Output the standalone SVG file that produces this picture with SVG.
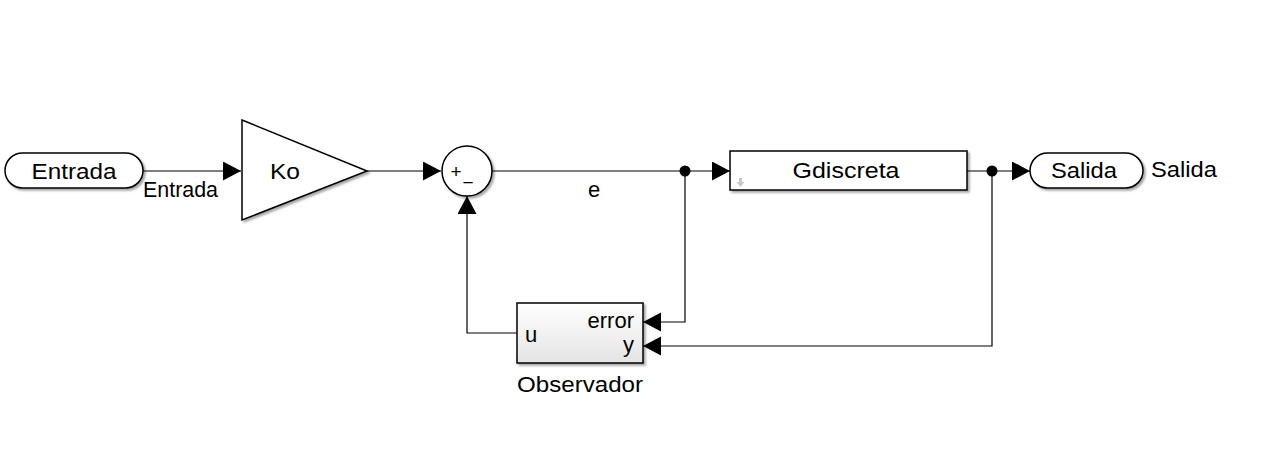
<svg xmlns="http://www.w3.org/2000/svg" width="1272" height="458" viewBox="0 0 1272 458">
<style>
text{font-family:"Liberation Sans",Arial,sans-serif;font-size:22px;fill:#000}
.blk{fill:#fff;stroke:#000;stroke-width:1.5}
.ln{fill:none;stroke:#000;stroke-width:1.2}
.sg{font-size:19px}
</style>
<defs>
<marker id="ar" markerWidth="20" markerHeight="20" refX="18" refY="9.5" orient="auto" markerUnits="userSpaceOnUse">
<path d="M0,0 L18,9.5 L0,19 Z" fill="#000"/>
</marker>
<linearGradient id="gr" x1="0" y1="0" x2="0" y2="1">
<stop offset="0" stop-color="#ffffff"/>
<stop offset="1" stop-color="#e4e4e4"/>
</linearGradient>
<filter id="sh" x="-10%" y="-10%" width="130%" height="140%">
<feDropShadow dx="2" dy="2" stdDeviation="1" flood-color="#000" flood-opacity="0.35"/>
</filter>
</defs>
<rect width="1272" height="458" fill="#fff"/>
<g id="connectors">
<path class="ln" d="M143,171 L241,171" marker-end="url(#ar)"/>
<path class="ln" d="M367,171 L441,171" marker-end="url(#ar)"/>
<path class="ln" d="M492,171 L685,171 L730,171" marker-end="url(#ar)"/>
<path class="ln" d="M685,171 L685,322 L643,322" marker-end="url(#ar)"/>
<path class="ln" d="M967,171 L992,171 L1030,171" marker-end="url(#ar)"/>
<path class="ln" d="M992,171 L992,346 L643,346" marker-end="url(#ar)"/>
<path class="ln" d="M517,333 L467,333 L467,196" marker-end="url(#ar)"/>
<circle cx="685" cy="171" r="5.5" fill="#000"/>
<circle cx="992" cy="171" r="5.5" fill="#000"/>
<text x="143" y="197" textLength="75" lengthAdjust="spacingAndGlyphs">Entrada</text>
<text x="588" y="197">e</text>
</g>
<g id="Entrada">
<rect x="5" y="153" width="138" height="35" rx="17.5" class="blk" filter="url(#sh)"/>
<text x="74" y="179" text-anchor="middle" textLength="85" lengthAdjust="spacingAndGlyphs">Entrada</text>
</g>
<g id="Ko">
<path d="M242,120 L367,171 L242,220 Z" class="blk" filter="url(#sh)"/>
<text x="270" y="179" textLength="30" lengthAdjust="spacingAndGlyphs">Ko</text>
</g>
<g id="Sum">
<circle cx="467" cy="171" r="25" class="blk" filter="url(#sh)"/>
<text x="456" y="178" text-anchor="middle" class="sg">+</text>
<text x="468" y="189" text-anchor="middle" class="sg">−</text>
</g>
<g id="Gdiscreta">
<rect x="730" y="151" width="237" height="39" class="blk" filter="url(#sh)"/>
<text x="846" y="178" text-anchor="middle" textLength="107" lengthAdjust="spacingAndGlyphs">Gdiscreta</text>
<path d="M739,178 L742,178 L742,182 L744.5,182 L740.5,187 L736.5,182 L739,182 Z" fill="#c8c8c8"/>
</g>
<g id="Salida">
<rect x="1030" y="153" width="113" height="35" rx="17.5" class="blk" filter="url(#sh)"/>
<text x="1084" y="178" text-anchor="middle" textLength="66" lengthAdjust="spacingAndGlyphs">Salida</text>
<text x="1151" y="177" textLength="66" lengthAdjust="spacingAndGlyphs">Salida</text>
</g>
<g id="Observador">
<rect x="517" y="303" width="126" height="60" fill="url(#gr)" stroke="#000" stroke-width="1.5" filter="url(#sh)"/>
<text x="634" y="328" text-anchor="end">error</text>
<text x="634" y="352" text-anchor="end">y</text>
<text x="525" y="342">u</text>
<text x="580" y="392" text-anchor="middle" textLength="126" lengthAdjust="spacingAndGlyphs">Observador</text>
</g>
</svg>
